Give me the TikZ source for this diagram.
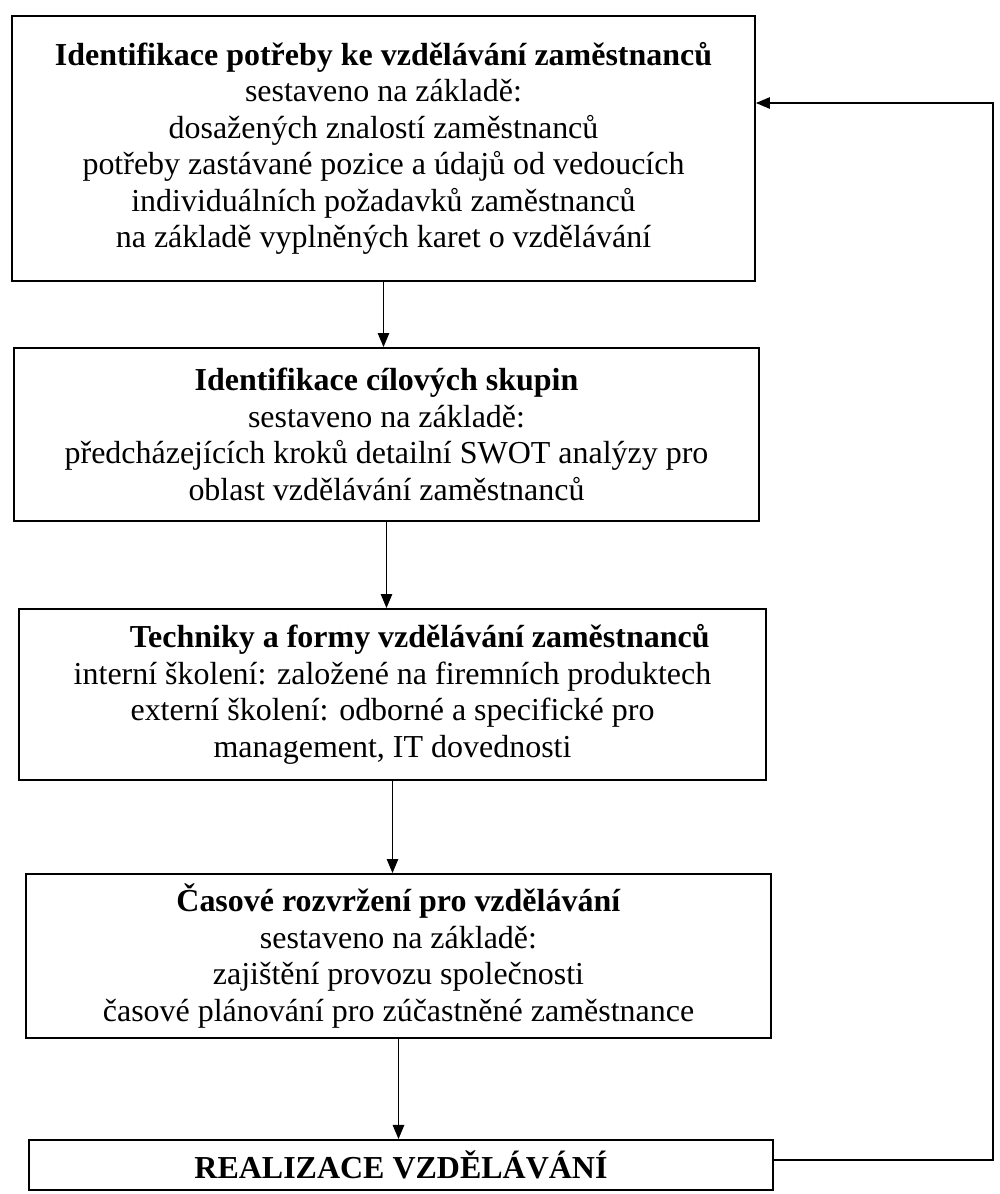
\documentclass[tikz,border=0pt]{standalone}
\usepackage{fontspec}
\setmainfont{Liberation Serif}
\usetikzlibrary{arrows.meta}
\begin{document}
\begin{tikzpicture}[x=0.02cm, y=-0.02cm, >={Triangle[length=8pt,width=6.5pt]},
    font=\fontsize{18.2}{20.8}\selectfont]
        \useasboundingbox (0,0) rectangle (1000,1194);
        \begin{scope}[every node/.style={rectangle,draw=black,line width=1.1pt,align=center,inner sep=0pt}]
            \node[minimum width=14.86cm, minimum height=5.3cm] (1) at (383.5, 148.5) {\textbf{Identifikace potřeby ke vzdělávání zaměstnanců}\\
                sestaveno na základě:\\
                dosažených znalostí zaměstnanců\\
                potřeby zastávané pozice a údajů od vedoucích\\
                individuálních požadavků zaměstnanců\\
                na základě vyplněných karet o vzdělávání};
            \node[minimum width=14.9cm, minimum height=3.46cm] (2) at (386.5, 434.5) {\textbf{Identifikace cílových skupin}\\
                sestaveno na základě:\\
                předcházejících kroků detailní SWOT analýzy pro\\
                oblast vzdělávání zaměstnanců};
            \node[minimum width=14.94cm, minimum height=3.42cm] (3) at (392.5, 694.5) {\hspace*{1.7em}\textbf{Techniky a formy vzdělávání zaměstnanců}\\
                interní školení: založené na firemních produktech\\
                externí školení: odborné a specifické pro\\
                management, IT dovednosti};
            \node[minimum width=14.9cm, minimum height=3.28cm] (4) at (398.5, 956) {\textbf{Časové rozvržení pro vzdělávání}\\
                sestaveno na základě:\\
                zajištění provozu společnosti\\
                časové plánování pro zúčastněné zaměstnance};
            \node[minimum width=14.88cm, minimum height=1.0cm] (5) at (401, 1165) {\textbf{REALIZACE VZDĚLÁVÁNÍ}};
        \end{scope}
        \coordinate (back) at (993, 1160);
        \coordinate (up) at (993, 103);
        \begin{scope}[every edge/.style={draw=black,line width=0.8pt,->}]
            \draw (1.south) edge (1.south |- 2.north);
            \draw (2.south) edge (2.south |- 3.north);
            \draw (3.south) edge (3.south |- 4.north);
            \draw (4.south) edge (4.south |- 5.north);
        \end{scope}
        \draw[line width=0.8pt,->] (5.east |- back) -- (back) -- (up) -- (up -| 1.east);
    \end{tikzpicture}
\end{document}
